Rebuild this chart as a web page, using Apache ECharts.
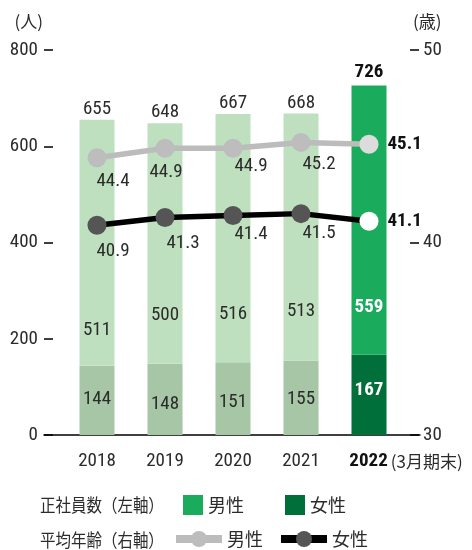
<!DOCTYPE html>
<html>
<head>
<meta charset="utf-8">
<script src="https://cdn.jsdelivr.net/npm/echarts@6/dist/echarts.min.js"></script>
<style>
  html, body { margin: 0; padding: 0; background: #fff; }
  #chart { width: 472px; height: 550px; }
</style>
</head>
<body>
<div id="chart"></div>
<script>
// Fiscal years (the last one is the year ending in March)
const years = ['2018', '2019', '2020', '2021', '2022'];
// Regular employees (left axis, persons)
const femaleStaff = [144, 148, 151, 155, 167];
const maleStaff = [511, 500, 516, 513, 559];
// Average age (right axis, years)
const maleAge = [44.4, 44.9, 44.9, 45.2, 45.1];
const femaleAge = [40.9, 41.3, 41.4, 41.5, 41.1];
// Axis ticks
const staffTicks = [0, 200, 400, 600, 800];
const ageTicks = [30, 40, 50];

// Label placement tweaks (pixels)
const maleAgeLabelOffset = [[16, 23], [1, 24], [18, 18], [18, 22]];
const femaleAgeLabelOffset = [[16, 26], [18, 26], [18, 19], [18, 20]];
const maleStaffLabelLift = [26, 39, 39, 40, 38];
const femaleStaffLabelShift = [-1, 5, 4, 2, -5];

const NUM = '"Liberation Sans Narrow", "Roboto Condensed", "DejaVu Sans Condensed", sans-serif';
const CJK = '"Noto Sans CJK JP", "Noto Sans", sans-serif';
const last = years.length - 1;
const totals = maleStaff.map((m, i) => m + femaleStaff[i]);

const C = {
  maleBar: '#1aab5c', maleBarPale: '#bfe0bf',
  femaleBar: '#006f39', femaleBarPale: '#a6c6a6',
  maleLine: '#bcbcbc', maleDot: '#bdbdbd', maleDotLast: '#dcdcdc',
  femaleLine: '#000000', femaleDot: '#555555', femaleDotLast: '#ffffff',
  text: '#2b2b2b'
};

const numLabel = { fontFamily: NUM, fontSize: 19, color: C.text };

const chart = echarts.init(document.getElementById('chart'));

chart.setOption({
  animation: false,
  backgroundColor: '#fff',
  grid: [
    { left: 63, right: 69, top: 50, bottom: 115 },
    { left: 44, right: 52, top: 50, bottom: 115 }
  ],
  xAxis: [
    {
      type: 'category', gridIndex: 0, data: years,
      axisLine: { show: false }, axisTick: { show: false },
      axisLabel: {
        interval: 0, margin: 17, color: C.text, fontFamily: NUM, fontSize: 19,
        formatter: (v, i) => i === last ? '{sp| }{b|' + v + '}{s|(3月期末)}' : v,
        rich: {
          sp: { width: 74 },
          b: { fontFamily: NUM, fontSize: 19, fontWeight: 'bold', color: '#111' },
          s: { fontFamily: CJK, fontSize: 17, color: C.text, padding: [0, 0, 0, 3] }
        }
      }
    },
    {
      type: 'value', gridIndex: 1, min: 0, max: 1,
      axisLine: { show: true, onZero: false, lineStyle: { color: '#000', width: 1.5 } },
      axisTick: { show: false }, axisLabel: { show: false }, splitLine: { show: false }
    }
  ],
  yAxis: [
    {
      type: 'value', gridIndex: 0, position: 'left', offset: 10,
      min: staffTicks[0], max: staffTicks[staffTicks.length - 1],
      interval: staffTicks[1] - staffTicks[0],
      name: '(人)', nameLocation: 'end', nameGap: 20,
      nameTextStyle: { fontFamily: CJK, fontSize: 17, color: C.text, align: 'right', padding: [0, 10, 0, 0] },
      axisLine: { show: false },
      axisTick: { show: true, length: 9, lineStyle: { color: '#000', width: 1.5 } },
      axisLabel: { margin: 15, color: C.text, fontFamily: NUM, fontSize: 19 },
      splitLine: { show: false }
    },
    {
      type: 'value', gridIndex: 0, position: 'right', offset: 7,
      min: ageTicks[0], max: ageTicks[ageTicks.length - 1],
      interval: ageTicks[1] - ageTicks[0],
      name: '(歳)', nameLocation: 'end', nameGap: 20,
      nameTextStyle: { fontFamily: CJK, fontSize: 17, color: C.text, align: 'left', padding: [0, 0, 0, 3] },
      axisLine: { show: false },
      axisTick: { show: true, length: 9, lineStyle: { color: '#000', width: 1.5 } },
      axisLabel: { margin: 13, color: C.text, fontFamily: NUM, fontSize: 19 },
      splitLine: { show: false }
    },
    { type: 'value', gridIndex: 1, show: false, min: 0, max: 1 }
  ],
  legend: [
    {
      data: [{ name: '正社員数男性', icon: 'rect' }, { name: '正社員数女性', icon: 'rect' }],
      left: 183, top: 495, padding: 0, itemWidth: 20, itemHeight: 20, itemGap: 41,
      selectedMode: false, formatter: n => n.slice(-2),
      textStyle: { fontFamily: CJK, fontSize: 18, color: C.text }
    },
    {
      data: [
        { name: '平均年齢男性', lineStyle: { width: 8 } },
        { name: '平均年齢女性', lineStyle: { width: 8 } }
      ],
      left: 172, top: 530, padding: 0, itemWidth: 46, itemHeight: 20, itemGap: 14,
      selectedMode: false, formatter: n => n.slice(-2),
      textStyle: { fontFamily: CJK, fontSize: 18, color: C.text }
    }
  ],
  graphic: [
    {
      type: 'text', x: 40, y: 505, scaleX: 0.86,
      style: { text: '正社員数（左軸）', font: '18px ' + CJK, fill: C.text, verticalAlign: 'middle' }
    },
    {
      type: 'text', x: 40, y: 540, scaleX: 0.86,
      style: { text: '平均年齢（右軸）', font: '18px ' + CJK, fill: C.text, verticalAlign: 'middle' }
    }
  ],
  series: [
    {
      name: '正社員数女性', type: 'bar', stack: 'staff', barWidth: 35, barGap: '-100%',
      xAxisIndex: 0, yAxisIndex: 0,
      itemStyle: { color: C.femaleBar },
      data: femaleStaff.map((v, i) => ({
        value: v,
        itemStyle: { color: i === last ? C.femaleBar : C.femaleBarPale },
        label: i === last
          ? { show: true, position: 'inside', offset: [0, femaleStaffLabelShift[i]], ...numLabel, color: '#fff', fontWeight: 'bold' }
          : { show: true, position: 'inside', offset: [0, femaleStaffLabelShift[i]], ...numLabel }
      }))
    },
    {
      name: '正社員数男性', type: 'bar', stack: 'staff', barWidth: 35, barGap: '-100%',
      xAxisIndex: 0, yAxisIndex: 0,
      itemStyle: { color: C.maleBar },
      data: maleStaff.map((v, i) => ({
        value: v,
        itemStyle: { color: i === last ? C.maleBar : C.maleBarPale },
        label: i === last
          ? { show: true, position: 'insideBottom', distance: maleStaffLabelLift[i], ...numLabel, color: '#fff', fontWeight: 'bold' }
          : { show: true, position: 'insideBottom', distance: maleStaffLabelLift[i], ...numLabel }
      }))
    },
    {
      // invisible overlay carrying the total above each stack
      name: '合計', type: 'bar', barWidth: 35, barGap: '-100%',
      xAxisIndex: 0, yAxisIndex: 0, silent: true,
      itemStyle: { color: 'rgba(0,0,0,0)' },
      data: totals.map((v, i) => ({
        value: v,
        label: i === last
          ? { show: true, position: 'top', distance: 4, ...numLabel, color: '#111', fontWeight: 'bold' }
          : { show: true, position: 'top', distance: 1, ...numLabel }
      }))
    },
    {
      name: '平均年齢男性', type: 'line', xAxisIndex: 0, yAxisIndex: 1, z: 5,
      symbol: 'circle', symbolSize: 19,
      lineStyle: { color: C.maleLine, width: 5.5 },
      itemStyle: { color: C.maleDot },
      data: maleAge.map((v, i) => ({
        value: v,
        itemStyle: { color: i === last ? C.maleDotLast : C.maleDot },
        label: i === last
          ? { show: true, position: 'right', distance: 9, ...numLabel, color: '#111', fontWeight: 'bold' }
          : { show: true, position: 'inside', offset: maleAgeLabelOffset[i], ...numLabel }
      }))
    },
    {
      name: '平均年齢女性', type: 'line', xAxisIndex: 0, yAxisIndex: 1, z: 5,
      symbol: 'circle', symbolSize: 19,
      lineStyle: { color: C.femaleLine, width: 5.5 },
      itemStyle: { color: C.femaleDot },
      data: femaleAge.map((v, i) => ({
        value: v,
        itemStyle: { color: i === last ? C.femaleDotLast : C.femaleDot },
        label: i === last
          ? { show: true, position: 'right', distance: 9, ...numLabel, color: '#111', fontWeight: 'bold' }
          : { show: true, position: 'inside', offset: femaleAgeLabelOffset[i], ...numLabel }
      }))
    }
  ]
});
</script>
</body>
</html>
